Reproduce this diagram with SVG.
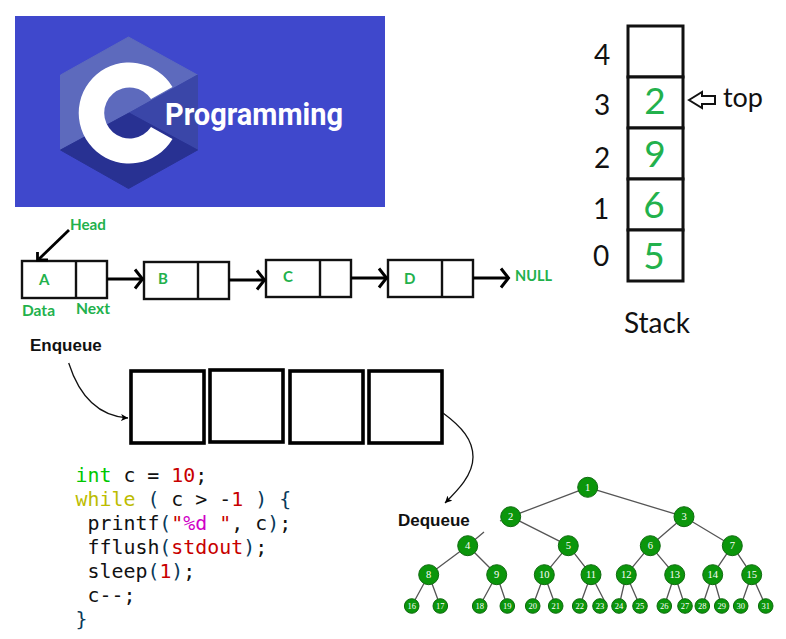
<svg xmlns="http://www.w3.org/2000/svg" width="786" height="639" viewBox="0 0 786 639">
<defs>
<marker id="ah" markerWidth="8" markerHeight="8" refX="7" refY="4" orient="auto" markerUnits="userSpaceOnUse"><path d="M0,0.5 L7,4 L0,7.5 L1.8,4 Z" fill="#000"/></marker>
<marker id="open" markerWidth="12" markerHeight="24" refX="10" refY="12" orient="auto" markerUnits="userSpaceOnUse"><path d="M2,2.5 L9.5,12 L2,21.5" fill="none" stroke="#000" stroke-width="3"/></marker>
</defs>
<style>
.ll{fill:#fff;stroke:#111;stroke-width:2.4}
.lld{stroke:#111;stroke-width:2.4}
.lla{stroke:#000;stroke-width:2.8;fill:none;marker-end:url(#open)}
.g{font-family:Lato,"Liberation Sans",sans-serif;font-weight:700;font-size:15px;fill:#22b14c}
.cal{font-family:Lato,"Open Sans",sans-serif;fill:#111}
.num{font-size:28px;text-anchor:middle}
.big{font-family:Lato,"Open Sans",sans-serif;font-size:37px;fill:#22b14c;text-anchor:middle}
.st{fill:#fff;stroke:#111;stroke-width:3}
.q{fill:#fff;stroke:#000;stroke-width:3.6}
.qt{font-family:"Liberation Sans",Arial,sans-serif;font-weight:700;font-size:17px;fill:#111}
.code{font-family:"DejaVu Sans Mono",monospace;font-size:19.9px;fill:#111;white-space:pre}
.r{fill:#c80000}.gr{fill:#00c800}.y{fill:#bcbc00}.m{fill:#d000c8}.p{fill:#0a3a5a}
.e{stroke:#555;stroke-width:1.3;fill:none}
.n{fill:#0b960b;stroke:#0e6a0e;stroke-width:1}
.nt{font-family:"Liberation Serif",serif;fill:#fff;text-anchor:middle;font-size:10.5px}
.lt{font-size:8.5px}
</style>

<g id="banner">
<rect x="15" y="16" width="370" height="191" fill="#3f48cc"/>
<polygon points="128.5,37 197.5,75 129,113 60.5,150 60.5,75" fill="#5d6abd" stroke="#5d6abd" stroke-width="1" stroke-linejoin="round"/>
<polygon points="197.5,75 197.5,150 129,113" fill="#3a46a8" stroke="#3a46a8" stroke-width="1" stroke-linejoin="round"/>
<polygon points="129,113 197.5,150 128.5,188.5 60.5,150" fill="#283192" stroke="#283192" stroke-width="1" stroke-linejoin="round"/>
<path d="M172.5,87 A50.5,50.5 0 1 0 172.5,139 L151,127 A25.5,25.5 0 1 1 151,99 Z" fill="#fff"/>
<text x="165" y="125" font-family="Roboto,'Liberation Sans',sans-serif" font-weight="700" font-size="31" fill="#fff" textLength="178" lengthAdjust="spacingAndGlyphs">Programming</text>
</g>

<g id="list-a"><rect class="ll" x="22" y="261" width="85" height="37"/><line class="lld" x1="76" y1="261" x2="76" y2="298"/><text class="g" x="39" y="285">A</text></g>
<g id="list-b"><rect class="ll" x="144" y="262" width="85" height="37"/><line class="lld" x1="198" y1="262" x2="198" y2="299"/><text class="g" x="158" y="284">B</text></g>
<g id="list-c"><rect class="ll" x="266" y="260" width="85" height="37"/><line class="lld" x1="320" y1="260" x2="320" y2="297"/><text class="g" x="283" y="282">C</text></g>
<g id="list-d"><rect class="ll" x="388" y="260" width="85" height="37"/><line class="lld" x1="442" y1="260" x2="442" y2="297"/><text class="g" x="404" y="284">D</text></g>
<g id="list-labels">
<text class="g" x="70" y="230" textLength="36" lengthAdjust="spacingAndGlyphs">Head</text>
<text class="g" x="22" y="316" textLength="33" lengthAdjust="spacingAndGlyphs">Data</text>
<text class="g" x="76" y="314" textLength="34" lengthAdjust="spacingAndGlyphs">Next</text>
<text class="g" x="515" y="281" textLength="37" lengthAdjust="spacingAndGlyphs">NULL</text>
</g>

<g id="stack">
<rect class="st" x="628" y="26" width="55" height="51"/>
<rect class="st" x="628" y="77" width="55" height="51"/>
<rect class="st" x="628" y="128" width="55" height="51"/>
<rect class="st" x="628" y="179" width="55" height="51"/>
<rect class="st" x="628" y="230" width="55" height="51"/>
<text class="big" x="655" y="114">2</text>
<text class="big" x="655" y="167">9</text>
<text class="big" x="654" y="218">6</text>
<text class="big" x="654" y="269">5</text>
<text class="cal num" x="602" y="65">4</text>
<text class="cal num" x="602" y="115">3</text>
<text class="cal num" x="602" y="168">2</text>
<text class="cal num" x="601" y="219">1</text>
<text class="cal num" x="601" y="266">0</text>
<text class="cal" x="723" y="107" font-size="27" textLength="40">top</text>
<text class="cal" x="624" y="333" font-size="28" textLength="66">Stack</text>
<path d="M689,100 L702,92 L702,96 L715,96 L715,104 L702,104 L702,108 Z" fill="#fff" stroke="#111" stroke-width="2"/>
</g>

<g id="queue">
<rect class="q" x="131" y="371" width="73" height="72"/>
<rect class="q" x="210" y="370" width="73" height="72"/>
<rect class="q" x="290" y="371" width="73" height="72"/>
<rect class="q" x="369" y="371" width="73" height="72"/>
<text class="qt" x="30" y="351">Enqueue</text>
<text class="qt" x="398" y="526">Dequeue</text>
</g>

<g id="connectors">
<path d="M69,230 L39,259" fill="none" stroke="#000" stroke-width="2.8"/>
<path d="M37.5,252 L37.5,260 L48,260" fill="none" stroke="#000" stroke-width="2.8"/>
<path class="lla" d="M107,279 L143,279"/>
<path class="lla" d="M229,280 L265,280"/>
<path class="lla" d="M351,278 L387,278"/>
<path class="lla" d="M473,278 L509,278"/>
<path d="M68.7,363 C78,392 96,416 128,418" fill="none" stroke="#111" stroke-width="1.3" marker-end="url(#ah)"/>
<path d="M443,413 C462,427 473,440 473,457 C473,475 458,490 445,503" fill="none" stroke="#111" stroke-width="1.3" marker-end="url(#ah)"/>
</g>

<g id="code" class="code">
<text x="75.5" y="482" xml:space="preserve"><tspan class="gr">int</tspan> c = <tspan class="r">10</tspan>;</text>
<text x="75.5" y="506" xml:space="preserve"><tspan class="y">while</tspan> <tspan class="p">(</tspan> c &gt; -<tspan class="r">1</tspan> <tspan class="p">)</tspan> <tspan class="p">{</tspan></text>
<text x="87.5" y="530" xml:space="preserve">printf<tspan class="p">(</tspan><tspan class="r">"</tspan><tspan class="m">%d</tspan><tspan class="r"> "</tspan>, c<tspan class="p">)</tspan>;</text>
<text x="87.5" y="554" xml:space="preserve">fflush<tspan class="p">(</tspan><tspan class="r">stdout</tspan><tspan class="p">)</tspan>;</text>
<text x="87.5" y="578" xml:space="preserve">sleep<tspan class="p">(</tspan><tspan class="r">1</tspan><tspan class="p">)</tspan>;</text>
<text x="87.5" y="602" xml:space="preserve">c--;</text>
<text x="75.5" y="626" xml:space="preserve"><tspan class="p">}</tspan></text>
</g>

<g id="tree-edges" class="e">
<path d="M587.7,487.3 L510.7,516.7 M587.7,487.3 L684,516.7 M510.7,516.7 L568.3,545.7 M500,521 L501,520.5 M467.7,545.7 L484,532 M684,516.7 L650.3,545.7 M684,516.7 L732.3,545.7 M467.7,545.7 L428.7,574.7 M467.7,545.7 L496.7,574.7 M568.3,545.7 L544.3,574.7 M568.3,545.7 L591,574.7 M650.3,545.7 L626.3,574.7 M650.3,545.7 L674.7,574.7 M732.3,545.7 L712.7,574.7 M732.3,545.7 L751.7,574.7 M428.7,574.7 L411.7,606 M428.7,574.7 L440.3,606 M496.7,574.7 L479.7,606 M496.7,574.7 L507.3,606 M544.3,574.7 L532.7,606 M544.3,574.7 L555.7,606 M591,574.7 L579.7,606 M591,574.7 L605,602 M626.3,574.7 L619,606 M626.3,574.7 L640,606 M674.7,574.7 L664.3,606 M674.7,574.7 L685,606 M712.7,574.7 L702.3,606 M712.7,574.7 L721.7,606 M751.7,574.7 L740.7,606 M751.7,574.7 L765.7,606"/>
</g>
<g id="n1"><circle class="n" cx="587.7" cy="487.3" r="10"/><text class="nt" x="587.7" y="491">1</text></g>
<g id="n2"><circle class="n" cx="510.7" cy="516.7" r="10"/><text class="nt" x="510.7" y="520.4">2</text></g>
<g id="n3"><circle class="n" cx="684" cy="516.7" r="10"/><text class="nt" x="684" y="520.4">3</text></g>
<g id="n4"><circle class="n" cx="467.7" cy="545.7" r="10"/><text class="nt" x="467.7" y="549.4">4</text></g>
<g id="n5"><circle class="n" cx="568.3" cy="545.7" r="10"/><text class="nt" x="568.3" y="549.4">5</text></g>
<g id="n6"><circle class="n" cx="650.3" cy="545.7" r="10"/><text class="nt" x="650.3" y="549.4">6</text></g>
<g id="n7"><circle class="n" cx="732.3" cy="545.7" r="10"/><text class="nt" x="732.3" y="549.4">7</text></g>
<g id="n8"><circle class="n" cx="428.7" cy="574.7" r="10"/><text class="nt" x="428.7" y="578.4">8</text></g>
<g id="n9"><circle class="n" cx="496.7" cy="574.7" r="10"/><text class="nt" x="496.7" y="578.4">9</text></g>
<g id="n10"><circle class="n" cx="544.3" cy="574.7" r="10"/><text class="nt" x="544.3" y="578.4">10</text></g>
<g id="n11"><circle class="n" cx="591" cy="574.7" r="10"/><text class="nt" x="591" y="578.4">11</text></g>
<g id="n12"><circle class="n" cx="626.3" cy="574.7" r="10"/><text class="nt" x="626.3" y="578.4">12</text></g>
<g id="n13"><circle class="n" cx="674.7" cy="574.7" r="10"/><text class="nt" x="674.7" y="578.4">13</text></g>
<g id="n14"><circle class="n" cx="712.7" cy="574.7" r="10"/><text class="nt" x="712.7" y="578.4">14</text></g>
<g id="n15"><circle class="n" cx="751.7" cy="574.7" r="10"/><text class="nt" x="751.7" y="578.4">15</text></g>
<g id="n16"><circle class="n" cx="411.7" cy="606" r="7.3"/><text class="nt lt" x="411.7" y="609">16</text></g>
<g id="n17"><circle class="n" cx="440.3" cy="606" r="7.3"/><text class="nt lt" x="440.3" y="609">17</text></g>
<g id="n18"><circle class="n" cx="479.7" cy="606" r="7.3"/><text class="nt lt" x="479.7" y="609">18</text></g>
<g id="n19"><circle class="n" cx="507.3" cy="606" r="7.3"/><text class="nt lt" x="507.3" y="609">19</text></g>
<g id="n20"><circle class="n" cx="532.7" cy="606" r="7.3"/><text class="nt lt" x="532.7" y="609">20</text></g>
<g id="n21"><circle class="n" cx="555.7" cy="606" r="7.3"/><text class="nt lt" x="555.7" y="609">21</text></g>
<g id="n22"><circle class="n" cx="579.7" cy="606" r="7.3"/><text class="nt lt" x="579.7" y="609">22</text></g>
<g id="n23"><circle class="n" cx="600" cy="606" r="7.3"/><text class="nt lt" x="600" y="609">23</text></g>
<g id="n24"><circle class="n" cx="619" cy="606" r="7.3"/><text class="nt lt" x="619" y="609">24</text></g>
<g id="n25"><circle class="n" cx="640" cy="606" r="7.3"/><text class="nt lt" x="640" y="609">25</text></g>
<g id="n26"><circle class="n" cx="664.3" cy="606" r="7.3"/><text class="nt lt" x="664.3" y="609">26</text></g>
<g id="n27"><circle class="n" cx="685" cy="606" r="7.3"/><text class="nt lt" x="685" y="609">27</text></g>
<g id="n28"><circle class="n" cx="702.3" cy="606" r="7.3"/><text class="nt lt" x="702.3" y="609">28</text></g>
<g id="n29"><circle class="n" cx="721.7" cy="606" r="7.3"/><text class="nt lt" x="721.7" y="609">29</text></g>
<g id="n30"><circle class="n" cx="740.7" cy="606" r="7.3"/><text class="nt lt" x="740.7" y="609">30</text></g>
<g id="n31"><circle class="n" cx="765.7" cy="606" r="7.3"/><text class="nt lt" x="765.7" y="609">31</text></g>
</svg>
